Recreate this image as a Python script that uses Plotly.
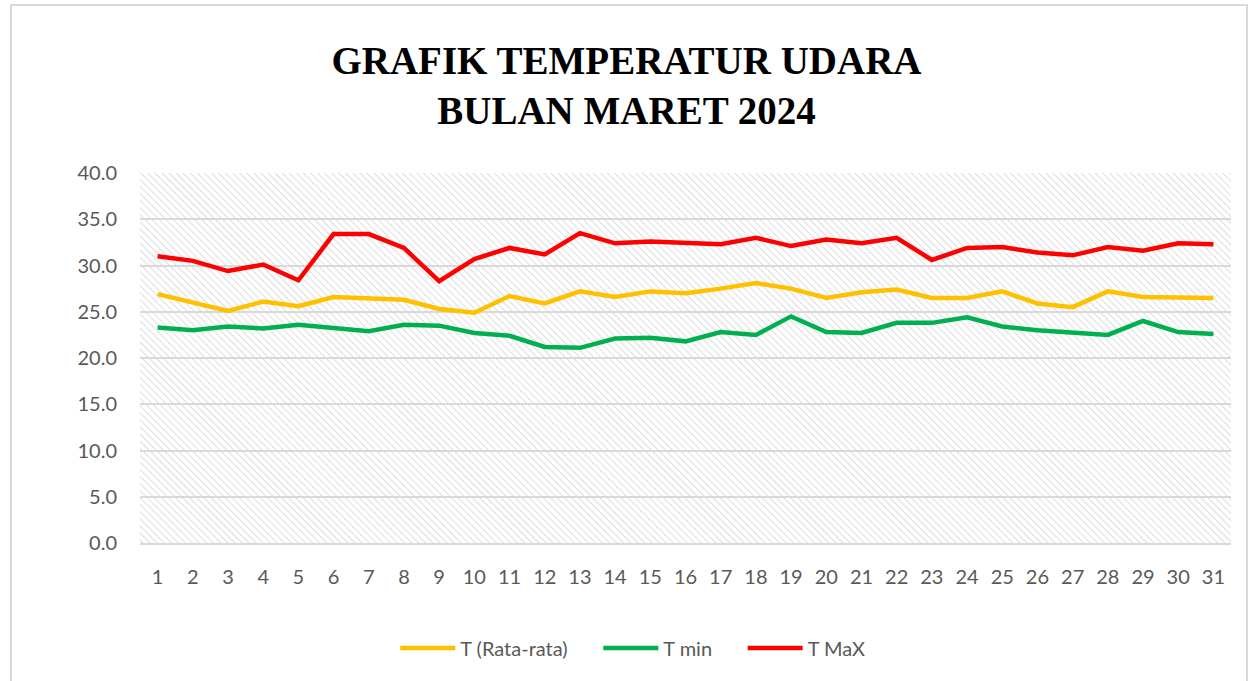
import plotly.graph_objects as go

days = list(range(1, 32))

t_rata = [26.9, 26.0, 25.1, 26.1, 25.6, 26.6, 26.4, 26.3, 25.3, 24.9,
          26.7, 25.9, 27.2, 26.6, 27.2, 27.0, 27.5, 28.1, 27.5, 26.5,
          27.1, 27.4, 26.5, 26.5, 27.2, 25.9, 25.5, 27.2, 26.6, 26.5, 26.5]

t_min = [23.3, 23.0, 23.4, 23.2, 23.6, 23.3, 22.9, 23.6, 23.5, 22.7,
         22.4, 21.2, 21.1, 22.1, 22.2, 21.8, 22.8, 22.5, 24.5, 22.8,
         22.7, 23.8, 23.8, 24.4, 23.4, 23.0, 22.7, 22.5, 24.0, 22.8, 22.6]

t_max = [31.0, 30.5, 29.4, 30.1, 28.4, 33.4, 33.4, 31.9, 28.3, 30.7,
         31.9, 31.2, 33.5, 32.4, 32.6, 32.5, 32.3, 33.0, 32.1, 32.8,
         32.4, 33.0, 30.6, 31.9, 32.0, 31.4, 31.1, 32.0, 31.6, 32.4, 32.3]

y_ticks = [0, 5, 10, 15, 20, 25, 30, 35, 40]

FONT = "Lato"
GREY_TXT = "#595959"
GRID = "#d9d9d9"
PAD = "\u00a0" * 5  # extra room between legend entries

# diagonal hatch behind the plot area (Excel pattern fill)
hatch_svg = (
    "data:image/svg+xml;utf8,"
    "<svg xmlns='http://www.w3.org/2000/svg' width='1091' height='370' "
    "viewBox='0 0 1091 370' preserveAspectRatio='none'>"
    "<defs><pattern id='p' width='5' height='5' patternUnits='userSpaceOnUse' "
    "patternTransform='rotate(-45)'>"
    "<line x1='0' y1='0' x2='0' y2='5' stroke='%23d4d4d4' stroke-width='1.6'/>"
    "</pattern></defs>"
    "<rect width='1091' height='370' fill='url(%23p)'/></svg>"
)

fig = go.Figure()
fig.add_trace(go.Scatter(x=days, y=t_rata, mode="lines", name="T (Rata-rata)" + PAD,
                         line=dict(color="#FFC000", width=4.5)))
fig.add_trace(go.Scatter(x=days, y=t_min, mode="lines", name="T min" + PAD,
                         line=dict(color="#00B050", width=4.5)))
fig.add_trace(go.Scatter(x=days, y=t_max, mode="lines", name="T MaX",
                         line=dict(color="#FF0000", width=4.5)))

fig.update_layout(
    width=1253,
    height=681,
    margin=dict(l=140, r=22, t=173, b=138),
    paper_bgcolor="white",
    plot_bgcolor="white",
    title=dict(
        text="<b>GRAFIK TEMPERATUR UDARA<br>BULAN MARET 2024</b>",
        font=dict(family="Liberation Serif", size=39, color="black"),
        x=0.5, xref="container", xanchor="center",
        y=0.892, yref="container", yanchor="top",
    ),
    legend=dict(
        orientation="h", x=0.505, xref="container", xanchor="center",
        y=0.02, yref="container", yanchor="bottom",
        font=dict(family=FONT, size=20, color=GREY_TXT),
        itemwidth=55, tracegroupgap=0,
    ),
    images=[dict(
        source=hatch_svg, xref="paper", yref="paper", x=0, y=1,
        sizex=1, sizey=1, sizing="stretch", layer="below",
        xanchor="left", yanchor="top",
    )],
    shapes=[dict(
        type="rect", xref="paper", yref="paper",
        x0=-0.1182, x1=1.0147, y0=-0.5, y1=1.454,
        line=dict(color="#d9d9d9", width=2), fillcolor="rgba(0,0,0,0)",
        layer="below",
    )],
)

fig.update_xaxes(
    range=[0.5, 31.5],
    tickmode="array", tickvals=days, ticktext=[str(d) for d in days],
    showgrid=False, zeroline=False,
    showline=True, linecolor=GRID, linewidth=1.5,
    ticks="", ticklabelstandoff=15,
    tickfont=dict(family=FONT, size=20, color=GREY_TXT),
)
fig.update_yaxes(
    range=[0, 40],
    tickmode="array", tickvals=y_ticks, tickformat=".1f",
    showgrid=True, gridcolor=GRID, gridwidth=1.5,
    zeroline=False, showline=False, ticks="",
    ticklabelstandoff=22,
    tickfont=dict(family=FONT, size=20, color=GREY_TXT),
)

# drop the default 8px body margin so the figure sits flush in the window
fig.write_html("out.html", config={"displayModeBar": False},
               post_script="document.body.style.margin='0';")
